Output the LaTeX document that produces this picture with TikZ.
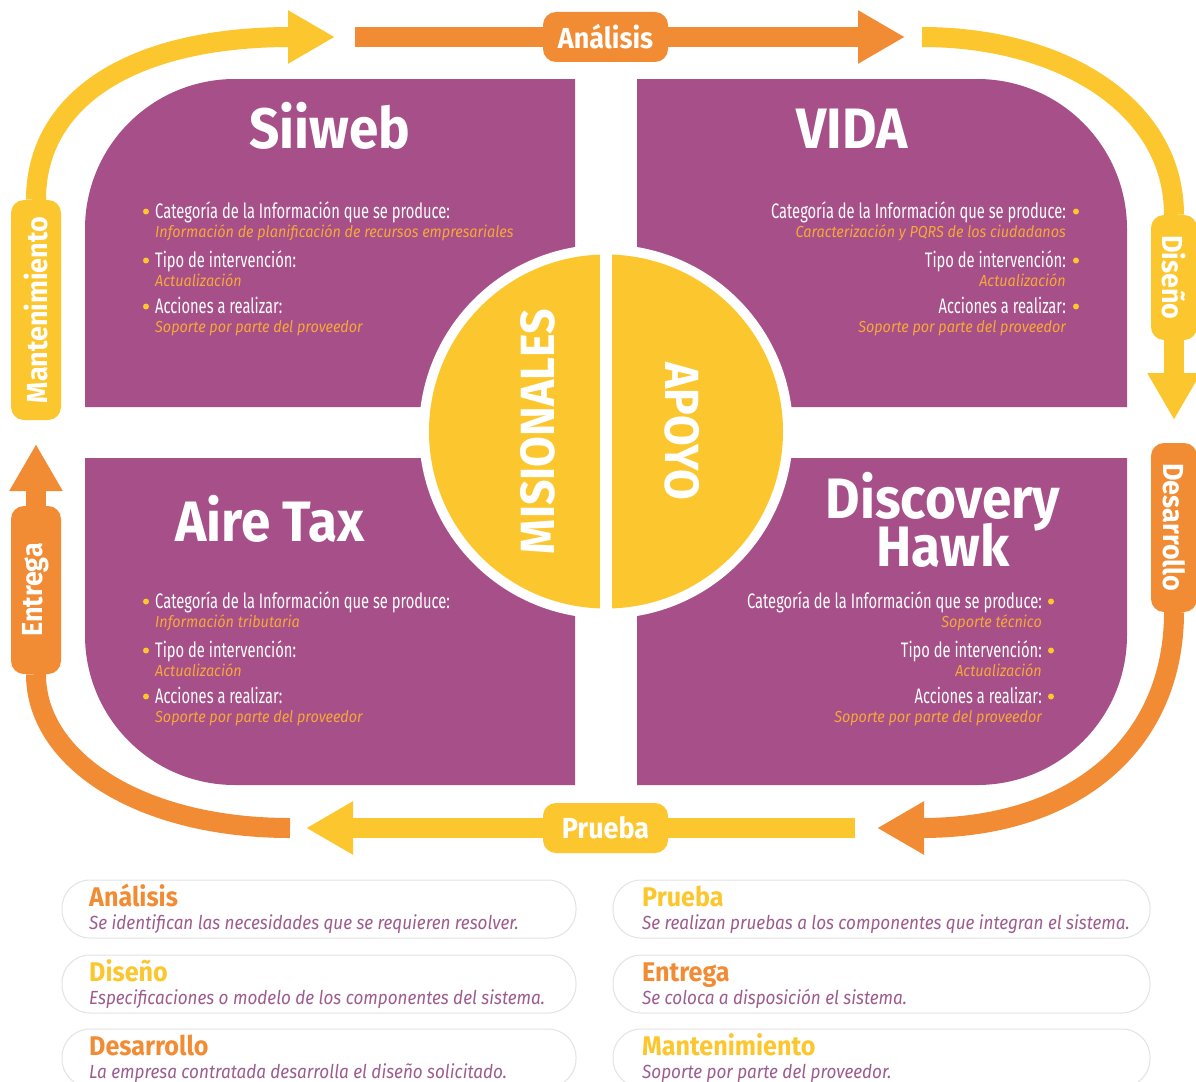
\documentclass[tikz,border=0pt]{standalone}
\usepackage{fontspec}
\setmainfont{Fira Sans}
\newfontfamily\titlefont[FakeStretch=0.93]{Fira Sans}
\newfontfamily\headfont[FakeStretch=0.7]{Fira Sans}
\newfontfamily\subfont[FakeStretch=0.9]{Fira Sans}
\newfontfamily\descfont[FakeStretch=0.9]{Fira Sans}
\usepackage{tikz}
\usetikzlibrary{arrows.meta}
\definecolor{cPanel}{HTML}{A64F88}
\definecolor{cYellow}{HTML}{FCC72E}
\definecolor{cOrange}{HTML}{F28C34}
\definecolor{cItal}{HTML}{F7A838}
\definecolor{cDesc}{HTML}{9D5C8F}
\definecolor{cLine}{HTML}{E3E3E6}

\begin{document}
\begin{tikzpicture}[x=1pt, y=-1pt,
  band/.style={line width=20pt},
  yband/.style={band, draw=cYellow},
  oband/.style={band, draw=cOrange},
  head tip/.style={-{Triangle[width=50pt,length=47pt]}},
  pill/.style={rounded corners=13pt, minimum height=50pt, inner sep=0pt, text=white,
    font=\titlefont\bfseries\fontsize{29}{30}\selectfont},
  title/.style={text=white, inner sep=0pt, font=\titlefont\bfseries\fontsize{57}{60}\selectfont},
  half/.style={text=white, inner sep=0pt, font=\titlefont\bfseries\fontsize{48}{50}\selectfont},
  head/.style={text=white, inner sep=0pt, font=\headfont\fontsize{21}{22}\selectfont},
  sub/.style={text=cItal, inner sep=0pt, font=\subfont\itshape\fontsize{16}{18}\selectfont},
  legbox/.style={draw=cLine, line width=1pt, rounded corners=28pt},
  legtitle/.style={inner sep=0pt, font=\titlefont\bfseries\fontsize{27}{30}\selectfont},
  legdesc/.style={text=cDesc, inner sep=0pt, font=\descfont\itshape\fontsize{19}{22}\selectfont}]
\fill[white] (0,0) rectangle (1196,1081);
\useasboundingbox (0,0) rectangle (1196,1081);

\fill[cPanel] (575,79) -- (235,79) .. controls (152,79) and (85,146) .. (85,229) -- (85,407) -- (575,407) -- cycle;
\fill[cPanel] (637,79) -- (977,79) .. controls (1060,79) and (1127,146) .. (1127,229) -- (1127,407) -- (637,407) -- cycle;
\fill[cPanel] (575,458) -- (85,458) -- (85,635) .. controls (85,718) and (152,785) .. (235,785) -- (575,785) -- cycle;
\fill[cPanel] (637,458) -- (1127,458) -- (1127,635) .. controls (1127,718) and (1060,785) .. (977,785) -- (637,785) -- cycle;

\coordinate (mid) at (606,431.5);
\fill[white] (mid) circle (187pt);
\fill[cYellow] (mid) circle (177pt);
\fill[white] (600,250) rectangle (612,615);
\node[half, rotate=90] (mis) at (538,431.5) {MISIONALES};
\node[half, rotate=-90] (apo) at (682,431.5) {APOYO};

\node[title, anchor=base] (sii) at (330,148) {Siiweb};
\node[title, anchor=base] (vida) at (852,148) {VIDA};
\node[title, anchor=base] (aire) at (270,541) {Aire Tax};
\node[title, align=center, anchor=north] (dh) at (943,472) {Discovery\\[-12pt]Hawk};

\foreach \n/\dy/\hd/\sb in {1/0/Categoría de la Información que se produce:/Información de planificación de recursos empresariales,
    2/49/Tipo de intervención:/Actualización, 3/95/Acciones a realizar:/Soporte por parte del proveedor} {
  \fill[cYellow] (146,211.5+\dy) circle (3pt);
  \node[head, anchor=base west] (sw-h\n) at (155,218+\dy) {\hd};
  \node[sub, anchor=base west] (sw-s\n) at (155,237+\dy) {\sb};
}
\foreach \n/\dy/\hd/\sb in {1/0/Categoría de la Información que se produce:/Caracterización y PQRS de los ciudadanos,
    2/49/Tipo de intervención:/Actualización, 3/95/Acciones a realizar:/Soporte por parte del proveedor} {
  \fill[cYellow] (1076,211.5+\dy) circle (3pt);
  \node[head, anchor=base east] (vi-h\n) at (1066,218+\dy) {\hd};
  \node[sub, anchor=base east] (vi-s\n) at (1066,237+\dy) {\sb};
}
\foreach \n/\dy/\hd/\sb in {1/0/Categoría de la Información que se produce:/Información tributaria,
    2/49/Tipo de intervención:/Actualización, 3/95/Acciones a realizar:/Soporte por parte del proveedor} {
  \fill[cYellow] (146,601.5+\dy) circle (3pt);
  \node[head, anchor=base west] (at-h\n) at (155,608+\dy) {\hd};
  \node[sub, anchor=base west] (at-s\n) at (155,627+\dy) {\sb};
}
\foreach \n/\dy/\hd/\sb in {1/0/Categoría de la Información que se produce:/Soporte técnico,
    2/49/Tipo de intervención:/Actualización, 3/95/Acciones a realizar:/Soporte por parte del proveedor} {
  \fill[cYellow] (1051,601.5+\dy) circle (3pt);
  \node[head, anchor=base east] (dh-h\n) at (1042,608+\dy) {\hd};
  \node[sub, anchor=base east] (dh-s\n) at (1042,627+\dy) {\sb};
}

\node[pill, fill=cOrange, minimum width=125pt] (ana) at (605.5,37) {Análisis};
\node[pill, fill=cYellow, minimum width=125pt] (pru) at (605.5,828) {Prueba};
\node[pill, fill=cYellow, minimum width=220pt, rotate=90] (mant) at (36,310) {Mantenimiento};
\node[pill, fill=cOrange, minimum width=168pt, rotate=90] (ent) at (36,590) {Entrega};
\node[pill, fill=cYellow, minimum width=125pt, minimum height=46pt, rotate=-90] (dis) at (1174,277.5) {Diseño};
\node[pill, fill=cOrange, minimum width=169pt, minimum height=46pt, rotate=-90] (des) at (1174,527.5) {Desarrollo};

\coordinate (tlTip) at (335,37);
\coordinate (anaStart) at (355,37);
\coordinate (anaTip) at (905,37);
\coordinate (trStart) at (922,37);
\coordinate (disTip) at (1174,420);
\coordinate (brTip) at (877,828);
\coordinate (botStart) at (855,828);
\coordinate (botTip) at (306,828);
\coordinate (blStart) at (290,828);
\coordinate (entTip) at (36,444);

\draw[yband, head tip] (mant.east) .. controls (36,100) and (130,37) .. (tlTip);
\draw[oband] (anaStart) -- (ana);
\draw[oband, head tip] (ana) -- (anaTip);
\draw[yband] (trStart) .. controls (1060,37) and (1174,105) .. (dis.west);
\draw[yband, head tip] (dis.east) -- (disTip);
\draw[oband, head tip] (des.east) .. controls (1174,740) and (1080,828) .. (brTip);
\draw[yband] (botStart) -- (pru);
\draw[yband, head tip] (pru) -- (botTip);
\draw[oband] (blStart) .. controls (140,828) and (36,760) .. (ent.west);
\draw[oband, head tip] (ent.east) -- (entTip);

\foreach \dy/\ti/\co/\de in {0/Análisis/cOrange/Se identifican las necesidades que se requieren resolver.,
    75/Diseño/cYellow/Especificaciones o modelo de los componentes del sistema.,
    149/Desarrollo/cOrange/La empresa contratada desarrolla el diseño solicitado.} {
  \draw[legbox] (62,880+\dy) rectangle (576,938+\dy);
  \node[legtitle, text=\co, anchor=base west] (lt\dy) at (89,906+\dy) {\ti};
  \node[legdesc, anchor=base west] (ld\dy) at (89,929+\dy) {\de};
}
\foreach \dy/\ti/\co/\de in {0/Prueba/cYellow/Se realizan pruebas a los componentes que integran el sistema.,
    75/Entrega/cOrange/Se coloca a disposición el sistema.,
    149/Mantenimiento/cYellow/Soporte por parte del proveedor.} {
  \draw[legbox] (613,880+\dy) rectangle (1150,938+\dy);
  \node[legtitle, text=\co, anchor=base west] (rt\dy) at (642,906+\dy) {\ti};
  \node[legdesc, anchor=base west] (rd\dy) at (642,929+\dy) {\de};
}
\end{tikzpicture}
\end{document}
